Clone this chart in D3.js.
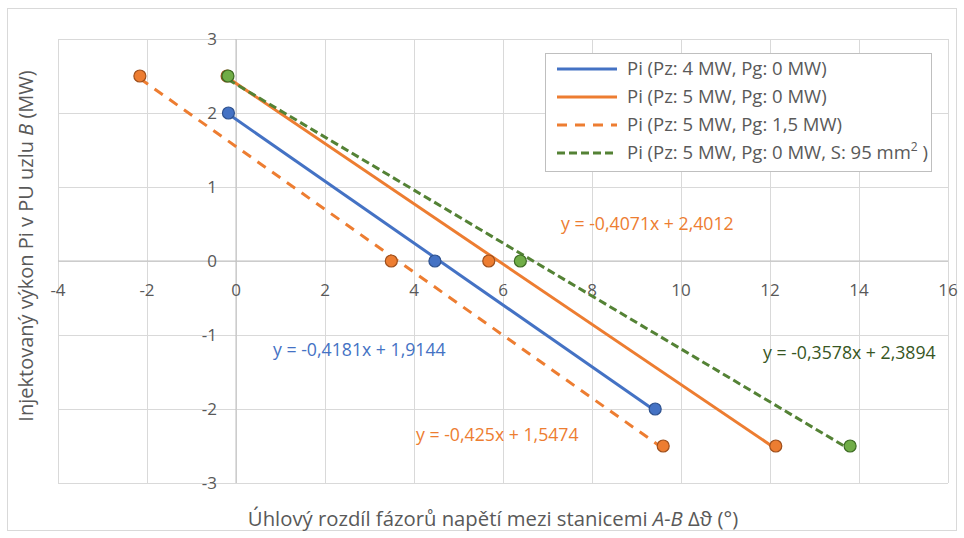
<!DOCTYPE html>
<html>
<head>
<meta charset="utf-8">
<script src="https://cdn.jsdelivr.net/npm/d3@7"></script>
<style>
  body { margin: 0; background: #fff; }
  svg text { font-family: "Open Sans", Lato, "Liberation Sans", sans-serif; }
</style>
</head>
<body>
<svg id="chart"></svg>
<script>
// series data
let seriesNames = [
    "Pi (Pz: 4 MW, Pg: 0 MW)",
    "Pi (Pz: 5 MW, Pg: 0 MW)",
    "Pi (Pz: 5 MW, Pg: 1,5 MW)",
    "Pi (Pz: 5 MW, Pg: 0 MW, S: 95 mm"
];
let xBlue = [-0.17, 4.47, 9.42];
let yBlue = [2, 0, -2];
let xOrange = [-0.2, 5.68, 12.13];
let yOrange = [2.5, 0, -2.5];
let xOrangeDash = [-2.16, 3.49, 9.6];
let yOrangeDash = [2.5, 0, -2.5];
let xGreen = [-0.18, 6.39, 13.8];
let yGreen = [2.5, 0, -2.5];

// trendline coefficients (slope, intercept)
let slopes = [-0.4181, -0.4071, -0.425, -0.3578];
let intercepts = [1.9144, 2.4012, 1.5474, 2.3894];
let equationLabels = [
    "y = -0,4181x + 1,9144",
    "y = -0,4071x + 2,4012",
    "y = -0,425x + 1,5474",
    "y = -0,3578x + 2,3894"
];

let xTicks = [-4, -2, 0, 2, 4, 6, 8, 10, 12, 14, 16];
let yTicks = [-3, -2, -1, 0, 1, 2, 3];

let width = 964, height = 538;

let svg = d3.select("#chart")
    .attr("width", width)
    .attr("height", height);

// chart frame
svg.append("rect")
    .attr("x", 7.5).attr("y", 8.5)
    .attr("width", 949).attr("height", 522)
    .attr("fill", "#fff")
    .attr("stroke", "#d9d9d9");

//Scale
let xScale = d3.scaleLinear().domain([-4, 16]).range([58, 948]);
let yScale = d3.scaleLinear().domain([-3, 3]).range([483, 39]);

// grid
svg.append("g")
    .attr("transform", "translate(0,483)")
    .call(d3.axisBottom(xScale).tickValues(xTicks).tickSize(-444).tickFormat(""))
    .call(g => g.select(".domain").remove())
    .call(g => g.selectAll("line").attr("stroke", "#d9d9d9"));

svg.append("g")
    .attr("transform", "translate(58,0)")
    .call(d3.axisLeft(yScale).tickValues(yTicks).tickSize(-890).tickFormat(""))
    .call(g => g.select(".domain").remove())
    .call(g => g.selectAll("line").attr("stroke", "#d9d9d9"));

// axes through zero
svg.append("line")
    .attr("x1", 58).attr("x2", 948)
    .attr("y1", yScale(0)).attr("y2", yScale(0))
    .attr("stroke", "#bfbfbf");
svg.append("line")
    .attr("x1", xScale(0)).attr("x2", xScale(0))
    .attr("y1", 39).attr("y2", 483)
    .attr("stroke", "#bfbfbf");

// tick labels
svg.append("g").selectAll("text")
    .data(xTicks)
    .enter().append("text")
    .attr("x", d => xScale(d))
    .attr("y", yScale(0) + 35)
    .attr("text-anchor", "middle")
    .attr("font-size", "17px")
    .attr("fill", "#595959")
    .text(d => d);

svg.append("g").selectAll("text")
    .data(yTicks)
    .enter().append("text")
    .attr("x", xScale(0) - 19)
    .attr("y", d => yScale(d) + 6)
    .attr("text-anchor", "end")
    .attr("font-size", "17px")
    .attr("fill", "#595959")
    .text(d => d);

// series
let series = [
    {xs: xBlue, ys: yBlue, color: "#4472c4", lineColor: "#4472c4", stroke: "#2f528f", dash: null},
    {xs: xOrange, ys: yOrange, color: "#ed7d31", lineColor: "#ed7d31", stroke: "#9e4f1c", dash: null},
    {xs: xOrangeDash, ys: yOrangeDash, color: "#ed7d31", lineColor: "#ed7d31", stroke: "#9e4f1c", dash: "10,8"},
    {xs: xGreen, ys: yGreen, color: "#70ad47", lineColor: "#548235", stroke: "#3d6b24", dash: "8,4"}
];

series.forEach(function(s, i) {
    let x0 = d3.min(s.xs), x1 = d3.max(s.xs);
    svg.append("line")
        .attr("x1", xScale(x0)).attr("y1", yScale(slopes[i] * x0 + intercepts[i]))
        .attr("x2", xScale(x1)).attr("y2", yScale(slopes[i] * x1 + intercepts[i]))
        .attr("stroke", s.lineColor)
        .attr("stroke-width", 3)
        .attr("stroke-dasharray", s.dash);
});

series.forEach(function(s) {
    svg.append("g").selectAll("circle")
        .data(s.xs)
        .enter().append("circle")
        .attr("cx", d => xScale(d))
        .attr("cy", (d, j) => yScale(s.ys[j]))
        .attr("r", 6)
        .attr("fill", s.color)
        .attr("stroke", s.stroke)
        .attr("stroke-width", 1.2);
});

// trendline equations
let eqPos = [[273, 356], [561, 230], [416, 441], [763, 359]];
let eqColors = ["#4472c4", "#ed7d31", "#ed7d31", "#375623"];
equationLabels.forEach(function(t, i) {
    svg.append("text")
        .attr("x", eqPos[i][0]).attr("y", eqPos[i][1])
        .attr("font-size", "17.7px")
        .attr("fill", eqColors[i])
        .text(t);
});

// legend
let legend = svg.append("g");
legend.append("rect")
    .attr("x", 545.5).attr("y", 53.5)
    .attr("width", 386).attr("height", 118)
    .attr("fill", "#fff")
    .attr("stroke", "#bfbfbf");

series.forEach(function(s, i) {
    let ly = 69 + i * 28;
    legend.append("line")
        .attr("x1", 557).attr("x2", 617)
        .attr("y1", ly).attr("y2", ly)
        .attr("stroke", s.lineColor)
        .attr("stroke-width", 3)
        .attr("stroke-dasharray", s.dash);
    let txt = legend.append("text")
        .attr("x", 627).attr("y", ly + 6)
        .attr("font-size", "18.5px")
        .attr("fill", "#595959")
        .text(seriesNames[i]);
    if (i == 3) {
        txt.append("tspan").attr("dy", -8).attr("font-size", "12px").text("2");
        txt.append("tspan").attr("dy", 8).text(" )");
    }
});

// axis titles
let xTitle = svg.append("text")
    .attr("x", 493).attr("y", 526)
    .attr("text-anchor", "middle")
    .attr("font-size", "20.3px")
    .attr("fill", "#595959");
xTitle.append("tspan").text("Úhlový rozdíl fázorů napětí mezi stanicemi ");
xTitle.append("tspan").attr("font-style", "italic").text("A-B");
xTitle.append("tspan").text(" Δϑ (°)");

let yTitle = svg.append("text")
    .attr("transform", "translate(33,246) rotate(-90)")
    .attr("text-anchor", "middle")
    .attr("font-size", "20px")
    .attr("fill", "#595959");
yTitle.append("tspan").text("Injektovaný výkon Pi v PU uzlu ");
yTitle.append("tspan").attr("font-style", "italic").text("B");
yTitle.append("tspan").text(" (MW)");
</script>
</body>
</html>
